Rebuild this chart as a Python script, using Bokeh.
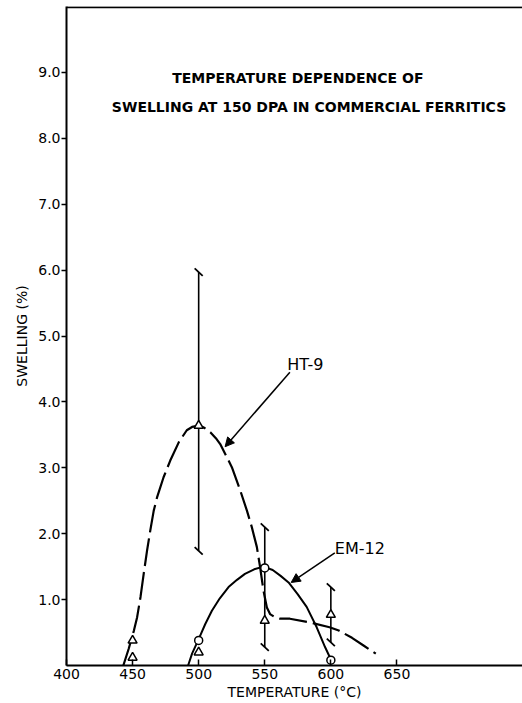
from bokeh.plotting import figure
from bokeh.models import Label, Arrow, NormalHead, FixedTicker, NumeralTickFormatter, Span, Range1d
from bokeh.embed import file_html
from bokeh.resources import INLINE

FONT = "DejaVu Sans"

# HT-9: hand-fitted dashed trend through the measured points
ht9_curve_t = [443, 447, 451, 453.4, 456, 458.4, 461, 463.4, 466, 468.5, 473.5, 478.5, 485,
               491, 495, 500, 504, 508.8, 513, 516.3, 525.1, 531.4, 536.5, 540.2, 544, 546.5,
               549, 551.6, 554, 557.9, 561.6, 569, 585, 599, 606, 616, 625, 634]
ht9_curve_s = [0.0, 0.25, 0.53, 0.73, 1.04, 1.39, 1.75, 2.05, 2.35, 2.55, 2.86, 3.11, 3.39,
               3.57, 3.62, 3.64, 3.61, 3.54, 3.45, 3.36, 3.01, 2.66, 2.35, 2.1, 1.8, 1.49,
               1.14, 0.88, 0.78, 0.73, 0.71, 0.71, 0.65, 0.58, 0.53, 0.42, 0.3, 0.18]

# EM-12: solid trend
em12_curve_t = [492, 495, 500, 505, 510, 516, 522.6, 529, 535, 542, 549, 556, 562, 568,
                575, 581.7, 589.3, 595.6, 601]
em12_curve_s = [0.0, 0.18, 0.4, 0.63, 0.83, 1.02, 1.19, 1.3, 1.39, 1.46, 1.5, 1.45, 1.36,
                1.26, 1.08, 0.89, 0.58, 0.28, 0.05]

# measured points
ht9_t = [450, 500, 550, 600, 450, 500]
ht9_s = [0.38, 3.64, 0.68, 0.77, 0.12, 0.2]
em12_t = [500, 550, 600]
em12_s = [0.38, 1.48, 0.08]

# scatter bands
eb_t = [500, 550, 600]
eb_lo = [1.74, 0.28, 0.35]
eb_hi = [5.97, 2.1, 1.19]

x_ticks = [400, 450, 500, 550, 600, 650]
y_ticks = [1, 2, 3, 4, 5, 6, 7, 8, 9]

p = figure(width=522, height=703, output_backend="svg", toolbar_location=None,
           x_range=Range1d(400, 745), y_range=Range1d(0, 10.0),
           min_border_left=66, min_border_right=0, min_border_top=6, min_border_bottom=38)
p.outline_line_color = None
p.grid.visible = False
p.background_fill_color = "white"
p.border_fill_color = "white"

# axes
xa = p.xaxis[0]
xa.ticker = FixedTicker(ticks=x_ticks)
xa.axis_line_width = 2
xa.major_tick_in = 6
xa.major_tick_out = 0
xa.major_tick_line_width = 1.5
xa.minor_tick_line_color = None
xa.major_label_standoff = 3
xa.major_label_text_font = FONT
xa.major_label_text_font_size = "14px"
xa.major_label_text_color = "black"
xa.axis_label = "TEMPERATURE (°C)"
xa.axis_label_text_font = FONT
xa.axis_label_text_font_size = "14px"
xa.axis_label_text_font_style = "normal"
xa.axis_label_standoff = 2
xa.axis_label_text_color = "black"

ya = p.yaxis[0]
ya.ticker = FixedTicker(ticks=y_ticks)
ya.formatter = NumeralTickFormatter(format="0.0")
ya.axis_line_width = 2
ya.major_tick_in = 0
ya.major_tick_out = 5
ya.major_tick_line_width = 1.5
ya.minor_tick_line_color = None
ya.major_label_standoff = 1
ya.major_label_text_font = FONT
ya.major_label_text_font_size = "14px"
ya.major_label_text_color = "black"
ya.axis_label = "SWELLING (%)"
ya.axis_label_text_font = FONT
ya.axis_label_text_font_size = "14px"
ya.axis_label_text_font_style = "normal"
ya.axis_label_standoff = 5
ya.axis_label_text_color = "black"

p.add_layout(Span(location=9.99, dimension="width", line_color="black", line_width=2))

# trend curves
p.line(ht9_curve_t, ht9_curve_s, line_color="black", line_width=2.2, line_dash="28 6",
       line_join="round")
p.line(em12_curve_t, em12_curve_s, line_color="black", line_width=2, line_join="round")

# scatter bands with slanted end flags
p.segment(x0=eb_t, y0=eb_lo, x1=eb_t, y1=eb_hi, line_color="black", line_width=1.6)
p.scatter(eb_t + eb_t, eb_lo + eb_hi, marker="dash", size=11, angle=-0.75,
          line_color="black", line_width=1.8)

# data points
p.scatter(ht9_t, ht9_s, marker="triangle", size=9, fill_color="white",
          line_color="black", line_width=1.5)
p.scatter(em12_t, em12_s, marker="circle", size=8, fill_color="white",
          line_color="black", line_width=1.5)

# title
p.add_layout(Label(x=575, y=8.92, text="TEMPERATURE DEPENDENCE OF", text_align="center",
                   text_baseline="middle", text_font=FONT, text_font_size="14px",
                   text_font_style="bold", text_color="black"))
p.add_layout(Label(x=583.5, y=8.48, text="SWELLING AT 150 DPA IN COMMERCIAL FERRITICS",
                   text_align="center", text_baseline="middle", text_font=FONT,
                   text_font_size="14px", text_font_style="bold", text_color="black"))

# curve labels with leader arrows
p.add_layout(Label(x=567, y=4.57, text="HT-9", text_baseline="middle", text_font=FONT,
                   text_font_size="16px", text_color="black"))
p.add_layout(Label(x=603, y=1.78, text="EM-12", text_baseline="middle", text_font=FONT,
                   text_font_size="16px", text_color="black"))
p.add_layout(Arrow(end=NormalHead(size=9, fill_color="black", line_color="black"),
                   x_start=569, y_start=4.45, x_end=520, y_end=3.32,
                   line_color="black", line_width=1.5))
p.add_layout(Arrow(end=NormalHead(size=9, fill_color="black", line_color="black"),
                   x_start=603, y_start=1.71, x_end=570, y_end=1.26,
                   line_color="black", line_width=1.5))

open("out.html", "w").write(file_html(p, INLINE))
